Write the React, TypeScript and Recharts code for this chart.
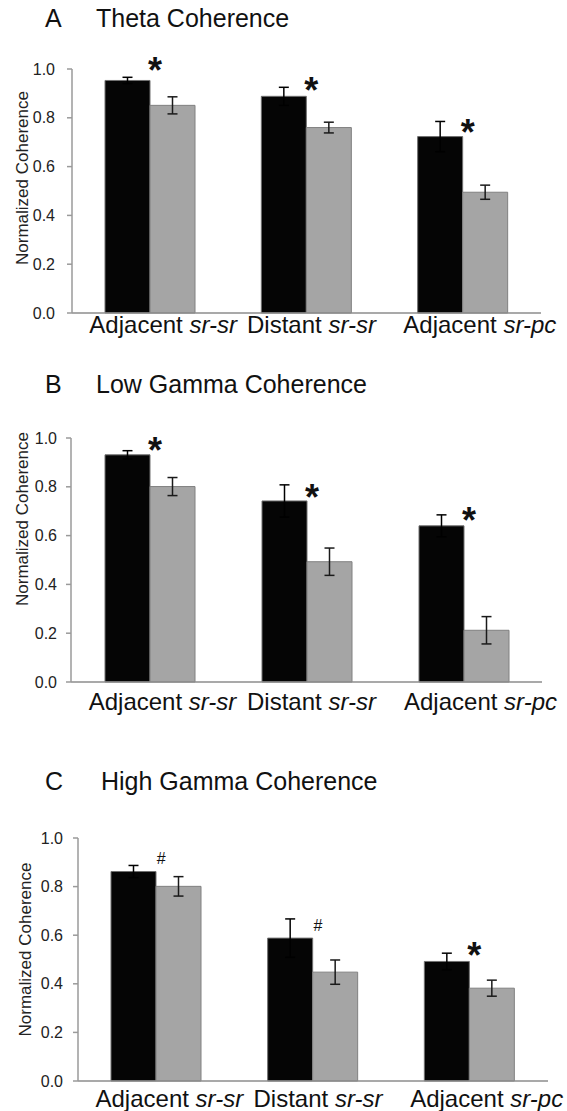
import React from "react";
import { BarChart, Bar, XAxis, YAxis, ErrorBar, LabelList, Label } from "recharts";

const FONT = "'Liberation Sans', Arial, Helvetica, sans-serif";

// categories shared by all three panels
const groupNames = ["Adjacent", "Distant", "Adjacent"];
const groupRegions = ["sr-sr", "sr-sr", "sr-pc"];
const yTicks = [0, 0.2, 0.4, 0.6, 0.8, 1.0];

// A - theta
const thetaBlack = [0.953, 0.888, 0.723];
const thetaBlackErr = [0.013, 0.037, 0.062];
const thetaGrey = [0.851, 0.76, 0.495];
const thetaGreyErr = [0.035, 0.022, 0.029];
const thetaMarks = ["*", "*", "*"];
const thetaMarkY = [1.024, 0.943, 0.771];

// B - low gamma
const lowBlack = [0.931, 0.742, 0.64];
const lowBlackErr = [0.017, 0.066, 0.045];
const lowGrey = [0.801, 0.493, 0.212];
const lowGreyErr = [0.037, 0.056, 0.056];
const lowMarks = ["*", "*", "*"];
const lowMarkY = [0.979, 0.788, 0.694];

// C - high gamma
const highBlack = [0.862, 0.588, 0.492];
const highBlackErr = [0.025, 0.079, 0.034];
const highGrey = [0.801, 0.448, 0.382];
const highGreyErr = [0.04, 0.05, 0.033];
const highMarks = ["#", "#", "*"];
const highMarkY = [0.917, 0.643, 0.547];

const makeRows = (black, blackErr, grey, greyErr, marks, markY) =>
  groupNames.map((g, i) => ({
    name: `${g} ${groupRegions[i]}`,
    black: black[i],
    blackErr: blackErr[i],
    grey: grey[i],
    greyErr: greyErr[i],
    mark: marks[i],
    markY: markY[i],
  }));

const labelShift = [13, 5, 17];

type PanelProps = {
  rows: any[];
  top: number;
  height: number;
  marginTop: number;
  yWidth: number;
  marginRight: number;
  xAxisHeight: number;
  xLabelDy: number;
  tickMargin: number;
  yLabelX: number;
  yLabelShift: number;
};

const Panel = (p: PanelProps) => {
  const { rows } = p;

  const renderTick = (t: any) => {
    const i = t.index ?? t.payload?.index ?? 0;
    return (
      <text
        x={t.x + labelShift[i]}
        y={t.y + p.xLabelDy}
        textAnchor="middle"
        fontSize={24}
        fill="#111"
        fontFamily={FONT}
      >
        {groupNames[i] + " "}
        <tspan fontStyle="italic">{groupRegions[i]}</tspan>
      </text>
    );
  };

  const renderMark = (lp: any) => {
    const vb = lp.viewBox ?? lp;
    const i = lp.index ?? 0;
    const row = rows[i];
    const pxPerUnit = vb.height / row.black;
    const cy = vb.y + vb.height - lp.value * pxPerUnit;
    const cx = vb.x + vb.width + 5;
    if (row.mark === "#") {
      return (
        <text x={cx} y={cy + 6} textAnchor="middle" fontSize={16} fontStyle="italic" fill="#111" fontFamily={FONT}>
          #
        </text>
      );
    }
    return (
      <text x={cx} y={cy + 20} textAnchor="middle" fontSize={36} fontWeight="bold" fill="#111" fontFamily={FONT}>
        *
      </text>
    );
  };

  const renderYLabel = (lp: any) => {
    const vb = lp.viewBox;
    const cx = vb.x + p.yLabelX;
    const cy = vb.y + vb.height / 2 + p.yLabelShift;
    return (
      <text
        x={cx}
        y={cy}
        dy="0.36em"
        textAnchor="middle"
        fontSize={17}
        fill="#222"
        fontFamily={FONT}
        transform={`rotate(-90, ${cx}, ${cy})`}
      >
        Normalized Coherence
      </text>
    );
  };

  return (
    <div style={{ position: "absolute", left: 0, top: p.top }}>
      <BarChart
        width={567}
        height={p.height}
        data={rows}
        margin={{ top: p.marginTop, right: p.marginRight, left: 0, bottom: 0 }}
        barGap={0}
      >
        <XAxis
          dataKey="name"
          interval={0}
          tickLine={false}
          tickSize={0}
          tickMargin={0}
          height={p.xAxisHeight}
          axisLine={{ stroke: "#8c8c8c", strokeWidth: 1.5 }}
          tick={renderTick}
        />
        <YAxis
          domain={[0, 1]}
          ticks={yTicks}
          width={p.yWidth}
          tickSize={5}
          tickMargin={p.tickMargin}
          tickFormatter={(v: number) => v.toFixed(1)}
          axisLine={{ stroke: "#9a9a9a", strokeWidth: 1.5 }}
          tickLine={{ stroke: "#9a9a9a", strokeWidth: 1.5 }}
          tick={{ fontSize: 16, fill: "#222", fontFamily: FONT }}
        >
          <Label content={renderYLabel} />
        </YAxis>
        <Bar dataKey="black" fill="#050505" stroke="#707070" strokeWidth={1} barSize={45} isAnimationActive={false}>
          <ErrorBar dataKey="blackErr" width={5} stroke="#000" strokeWidth={1.5} isAnimationActive={false} />
          <LabelList dataKey="markY" content={renderMark} />
        </Bar>
        <Bar dataKey="grey" fill="#a5a5a5" stroke="#808080" strokeWidth={1} barSize={45} isAnimationActive={false}>
          <ErrorBar dataKey="greyErr" width={5} stroke="#1a1a1a" strokeWidth={1.5} isAnimationActive={false} />
        </Bar>
      </BarChart>
    </div>
  );
};

const Title = ({ letter, text, y, textX }: { letter: string; text: string; y: number; textX: number }) => (
  <>
    <text x={45} y={y} fontSize={25} fill="#111" fontFamily={FONT}>
      {letter}
    </text>
    <text x={textX} y={y} fontSize={25} fill="#111" fontFamily={FONT}>
      {text}
    </text>
  </>
);

export default function App() {
  return (
    <div
      style={{
        position: "absolute",
        left: 0,
        top: 0,
        width: 567,
        height: 1111,
        background: "#fff",
        fontFamily: FONT,
        overflow: "hidden",
      }}
    >
      <Panel
        rows={makeRows(thetaBlack, thetaBlackErr, thetaGrey, thetaGreyErr, thetaMarks, thetaMarkY)}
        top={0}
        height={353}
        marginTop={69}
        yWidth={72}
        marginRight={26}
        xAxisHeight={40}
        xLabelDy={20}
        tickMargin={12}
        yLabelX={22}
        yLabelShift={-13}
      />
      <Panel
        rows={makeRows(lowBlack, lowBlackErr, lowGrey, lowGreyErr, lowMarks, lowMarkY)}
        top={380}
        height={342}
        marginTop={58}
        yWidth={71}
        marginRight={25}
        xAxisHeight={40}
        xLabelDy={28}
        tickMargin={9}
        yLabelX={22}
        yLabelShift={-41}
      />
      <Panel
        rows={makeRows(highBlack, highBlackErr, highGrey, highGreyErr, highMarks, highMarkY)}
        top={780}
        height={331}
        marginTop={58}
        yWidth={78}
        marginRight={19}
        xAxisHeight={30}
        xLabelDy={26}
        tickMargin={10}
        yLabelX={25}
        yLabelShift={-10}
      />
      <svg width={567} height={1111} style={{ position: "absolute", left: 0, top: 0, pointerEvents: "none" }}>
        <Title letter="A" text="Theta Coherence" y={27} textX={96} />
        <Title letter="B" text="Low Gamma Coherence" y={393} textX={96} />
        <Title letter="C" text="High Gamma Coherence" y={790} textX={101} />
      </svg>
    </div>
  );
}
